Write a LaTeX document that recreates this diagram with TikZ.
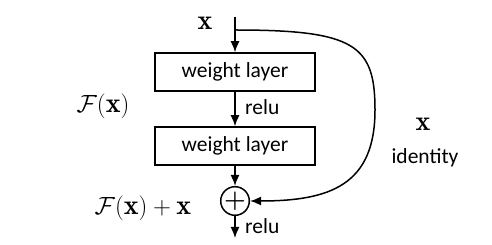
\documentclass[tikz,border=0pt]{standalone}
\usepackage{amsmath,amssymb}
\usepackage{fontspec}
\newfontfamily\labelfont{Carlito}
\usetikzlibrary{arrows.meta, positioning, calc}

\begin{document}
\begin{tikzpicture}[
      x=1pt, y=-1pt,
      layer/.style={rectangle, draw, line width=1.5pt, minimum width=160pt,
                    minimum height=38pt, font=\labelfont\fontsize{21.5}{24}\selectfont},
      plus/.style={circle, draw, line width=1.5pt, minimum size=25pt, inner sep=0pt,
                   font=\fontsize{26}{26}\selectfont},
      txt/.style={font=\labelfont\fontsize{21.5}{24}\selectfont, inner sep=0pt},
      mth/.style={font=\fontsize{28}{32}\selectfont, inner sep=0pt},
      arr/.style={-{Latex[length=11pt, width=9pt]}, line width=1.5pt}
    ]
      \useasboundingbox (0,0) rectangle (492,245);
      % main path
      \coordinate (xin) at (235,17);
      \coordinate (split) at (235,30);
      \node[layer] (w1) at (235,72) {weight layer};
      \node[layer] (w2) at (235,146) {weight layer};
      \node[plus] (add) at (235,201) {\raisebox{1pt}{$\boldsymbol{+}$}};
      \coordinate (out) at (235,238);
      \draw[arr] (xin) -- (w1);
      \draw[arr] (w1) -- (w2);
      \draw[arr] (w2) -- (add);
      \draw[arr] (add) -- (out);
      % shortcut
      \coordinate (bend) at (375,110);
      \draw[arr] (split) .. controls (355,30) and (375,45) .. (bend)
                 .. controls (375,185) and (330,201) .. (add);
      % labels
      \node[mth] (xlab) at (205,23) {$\mathbf{x}$};
      \node[mth] (flab) at (103,106) {$\mathcal{F}(\mathbf{x})$};
      \node[mth] (sumlab) at (143,208) {$\mathcal{F}(\mathbf{x})+\mathbf{x}$};
      \node[txt, anchor=west] (relu1) at (245,107) {relu};
      \node[txt, anchor=west] (relu2) at (245,226) {relu};
      \node[mth] (idx) at (423,124) {$\mathbf{x}$};
      \node[txt] (idlab) at (425,158) {identity};
    \end{tikzpicture}
\end{document}
